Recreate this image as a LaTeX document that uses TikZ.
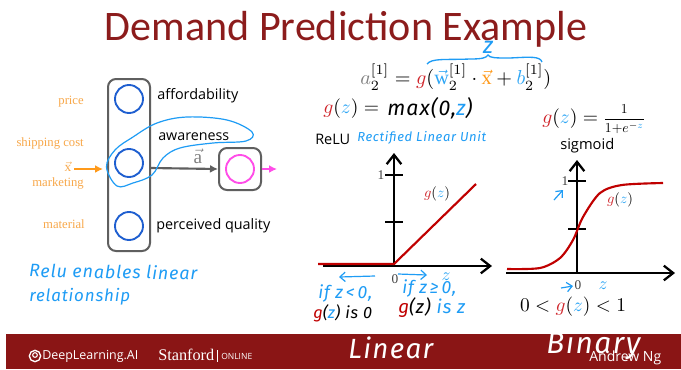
\documentclass[tikz,border=0pt]{standalone}
\usepackage{fontspec}
\usepackage{amsmath}
\usepackage{graphicx}
\setmainfont{Liberation Serif}
\newfontfamily\slidefont{Carlito}
\newfontfamily\labelfont{Open Sans}
\newfontfamily\handfont[LetterSpace=5]{Fira Sans Italic}
\usetikzlibrary{arrows.meta}
\definecolor{barred}{HTML}{8A1515}
\definecolor{titlered}{HTML}{8C1C1C}
\definecolor{handblue}{HTML}{1E9CF5}
\definecolor{zblue}{HTML}{2EA6F5}
\definecolor{gred}{HTML}{D0262C}
\definecolor{curve}{HTML}{C00000}
\definecolor{inorange}{HTML}{FF9A1A}
\definecolor{labelorange}{HTML}{F8A84A}
\definecolor{outmag}{HTML}{FF4DE8}
\definecolor{cblue}{HTML}{1F5FD0}
\definecolor{boxgray}{HTML}{5F5F5F}
\newcommand{\gz}{{\color{gred}g}({\color{zblue}z})}
\newcommand{\fw}[2]{\resizebox{#1\dimexpr0.75pt\relax}{!}{#2}}
\tikzset{
  x=0.75pt,y=-0.75pt,
  layerbox/.style={draw=boxgray,line width=1.5pt,rounded corners=6pt,fill=white,inner sep=0pt},
  unit/.style={circle,draw=cblue,line width=1.4pt,minimum size=21pt,inner sep=0pt,fill=white},
  feat/.style={anchor=east,text=labelorange,font=\fontsize{9.5}{10}\selectfont,inner sep=0pt},
  unitlabel/.style={anchor=west,font=\labelfont\fontsize{10.2}{12}\selectfont,inner sep=0pt},
  hand/.style={text=handblue,font=\handfont,inner sep=0pt},
  axis/.style={line width=1.7pt,-{Straight Barb[length=7pt,width=11pt,line width=1.7pt]}},
  tickmark/.style={line width=1.2pt},
  curveline/.style={color=curve,line width=1.6pt},
  flat/.style={inner sep=0pt},
  handarrow/.style={color=handblue,line width=0.9pt,-{Straight Barb[length=4pt,width=7pt]}},
}
\begin{document}
\begin{tikzpicture}
\useasboundingbox (0,0) rectangle (681,369);
\fill[white] (0,0) rectangle (681,369);
% footer
\fill[barred] (6,334) rectangle (681,369);
\node[flat,text=titlered,font=\slidefont] (title) at (346,29) {\fw{482}{Demand Prediction Example}};

% network
\node[layerbox,minimum width=31.5pt,minimum height=129pt] (layer) at (129,165) {};
\node[unit] (u1) at (129,99) {};
\node[unit] (u2) at (129,163) {};
\node[unit] (u3) at (129,226) {};
\node[layerbox,minimum width=31.5pt,minimum height=31.5pt] (outbox) at (240,169) {};
\node[unit,draw=outmag] (u4) at (240,169) {};
\coordinate (xs) at (74,169);
\coordinate (xe) at (103,169);
\coordinate (os) at (261.5,169);
\coordinate (oe) at (277,169);
\coordinate (ls) at (151,168);
\draw[inorange,line width=1.5pt,-{Latex[length=6pt,width=6pt]}] (xs) -- (xe);
\draw[boxgray,line width=1.6pt,-{Latex[length=6pt,width=6pt]}] (ls) -- (outbox.west);
\draw[outmag,line width=1.3pt,-{Latex[length=6pt,width=6pt]}] (os) -- (oe);
\node[flat,text=labelorange] (xl) at (68,167) {$\vec{\mathrm{x}}$};
\node[flat,text=gray] (al) at (198,156) {\Large $\vec{\mathrm{a}}$};
\node[feat] (f1) at (84,102) {price};
\node[feat] (f2) at (84,143) {shipping cost};
\node[feat] (f3) at (84,183) {marketing};
\node[feat] (f4) at (85,224) {material};
\node[unitlabel] (t1) at (157,96) {\fw{81}{affordability}};
\node[unitlabel] (t2) at (158,137) {\fw{71}{awareness}};
\node[unitlabel] (t3) at (156,226) {\fw{114}{perceived quality}};
% loop
\draw[handblue,line width=0.9pt] plot[smooth cycle,tension=0.6] coordinates {
 (106.5,167) (115,150) (133,137) (157,123) (187,117) (227,120) (252,132) (246,141)
 (213,143) (180,148) (163,158) (152,175) (133,183) (117,186)};
\node[hand,anchor=west,rotate=-1] (h1) at (29,270) {\fw{168}{Relu enables linear}};
\node[hand,anchor=west] (h2) at (29,297) {\fw{101}{relationship}};

% equations
\node[flat,anchor=west] (eq1) at (360,77) {\fw{191}{$\color{black}{\color{gray}a}^{[1]}_{2}={\color{gred}g}({\color{zblue}\vec{\mathrm{w}}}^{[1]}_{2}\cdot{\color{inorange}\vec{\mathrm{x}}}+{\color{zblue}b}^{[1]}_{2})$}};
\draw[handblue,line width=1pt] (427,64) .. controls (432,58) and (445,60) .. (470,59) .. controls (482,59) and (486,58) .. (488,55) .. controls (490,58) and (495,58) .. (510,58) .. controls (530,57) and (540,56) .. (542,62);
\node[hand] (zb) at (488,47) {\fw{10}{z}};
\node[flat,anchor=west] (gl) at (323,109) {\fw{56}{$\gz=$}};
\node[hand,anchor=west,text=black] (mx) at (387,108) {\fw{85}{max(0,{\color{handblue}z})}};
\node[flat,anchor=west,font=\labelfont] (relu) at (315,139) {\fw{35}{ReLU}};
\node[hand,anchor=west] (ru) at (357,138) {\fw{129}{Rectified Linear Unit}};
\node[flat,anchor=west] (gs) at (542,119) {\fw{56}{$\gz=$}};
\node[flat,anchor=west] (fr) at (603,119) {\fw{42}{$\dfrac{\;1\;}{1{+}e^{-\color{zblue}z}}$}};
\node[flat,anchor=west,font=\labelfont] (sg) at (560,146) {\fw{54}{sigmoid}};

% ReLU plot
\coordinate (r0) at (394,266);
\coordinate (rt) at (394,153);
\coordinate (rl) at (323,266);
\coordinate (rr) at (492,266);
\draw[axis] (r0) -- (rt);
\draw[axis] (rl) -- (rr);
\draw[tickmark] (385,175) -- (403,175) (385,222) -- (403,222);
\draw[curveline] (318,264) -- (394,264) -- (476,184);
\node[flat,text=darkgray] (r1) at (381,175) {1};
\node[flat,text=darkgray] (r2) at (395,279) {0};
\node[flat] (r3) at (446,277) {\fw{9}{$\color{zblue}z$}};
\node[flat] (r4) at (437,194) {\fw{26}{$\gz$}};
\draw[handarrow] (375,276) -- (339,277);
\draw[handarrow] (398,274) -- (427,275);
\node[hand,anchor=west] (c1) at (318,293) {\fw{54}{if z\,<\,0,}};
\node[hand,anchor=west,text=black] (c2) at (313,313) {\fw{59}{{\color{curve}g}({\color{handblue}z}) is 0}};
\node[hand,anchor=west] (c3) at (402,288) {\fw{54}{if z\,≥\,0,}};
\node[hand,anchor=west] (c4) at (398,308) {\fw{67}{{\color{curve}g}{\color{black}(z)} is z}};

% sigmoid plot
\coordinate (s0) at (577,273);
\coordinate (st) at (577,160);
\coordinate (sl) at (506,273);
\coordinate (sr) at (675,273);
\draw[axis] (s0) -- (st);
\draw[axis] (sl) -- (sr);
\draw[tickmark] (568,181) -- (586,181) (568,229) -- (586,229);
\draw[curveline] plot[smooth,tension=0.5] coordinates {(507,269) (540,268) (560,258) (573,240) (583,217) (600,193) (622,185) (663,183)};
\node[flat,text=darkgray] (s1) at (565,181) {1};
\node[flat,text=darkgray] (s2) at (578,285) {0};
\node[flat] (s3) at (603,286) {\fw{9}{$\color{zblue}z$}};
\node[flat] (s4) at (620,200) {\fw{26}{$\gz$}};
\draw[handarrow] (554,200) -- (563,190);
\draw[handarrow] (561,288) -- (573,286);
\node[flat] (rng) at (573,307) {\fw{106}{$0<\gz<1$}};

% footer text
\node[circle,draw=white,line width=1pt,minimum size=8.5pt,inner sep=0pt] (logo) at (35,356) {};
\node[circle,draw=white,line width=.8pt,minimum size=3.5pt,inner sep=0pt] (logob) at (35,355) {};
\node[flat,anchor=west,text=white,font=\labelfont] (dl) at (42,356) {\fw{96}{DeepLearning.AI}};
\node[flat,anchor=west,text=white] (sf) at (158,355) {\fw{56}{Stanford}};
\draw[white,line width=.4pt] (217.5,350) -- (217.5,362);
\node[flat,anchor=west,text=white,font=\labelfont] (on) at (221,356) {\fw{31}{ONLINE}};
\node[hand,anchor=west,text=white] (li) at (348,348) {\fw{85}{Linear}};
\node[flat,anchor=west,text=white,font=\labelfont] (ng) at (589,358) {\fw{72}{Andrew Ng}};
\node[hand,anchor=west,text=white] (bi) at (546,345) {\fw{94}{Binary}};
\end{tikzpicture}
\end{document}
